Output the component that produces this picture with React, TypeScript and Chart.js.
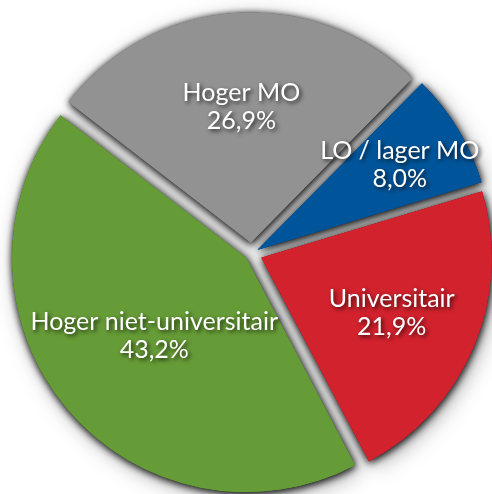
import React, { useEffect, useRef } from "react";
import { Chart, registerables } from "chart.js";

Chart.register(...registerables);

// ---- data ----
const categories = ["LO / lager MO", "Universitair", "Hoger niet-universitair", "Hoger MO"];
const shares = [8.0, 21.9, 43.2, 26.9];
const valueLabels = ["8,0%", "21,9%", "43,2%", "26,9%"];
const colors = ["#00559a", "#d2222d", "#669c37", "#929292"];

// ---- styling ----
const EXPLODE = 11; // px each slice is pulled out
const LABEL_FRACTIONS = [0.705, 0.613, 0.505, 0.596];
const total = shares.reduce((a, b) => a + b, 0);
// Chart.js translates arcs by offset/4*(1+fix); compensate for an even explode
const offsets = shares.map((v) => {
  const circ = (v / total) * 2 * Math.PI;
  const fix = 1 - Math.sin(Math.min(Math.PI, circ));
  return (4 * EXPLODE) / (1 + fix);
});

const shadowPasses = [
  { color: "rgba(0,0,0,0.35)", blur: 22, dx: 4, dy: 5 },
  { color: "rgba(0,0,0,0.8)", blur: 8, dx: 1, dy: 2 },
  { color: "rgba(0,0,0,0.5)", blur: 6, dx: 0, dy: 1 },
];

const shadowPlugin = {
  id: "sliceShadow",
  beforeDatasetsDraw(chart: any) {
    const ctx = chart.ctx;
    const meta = chart.getDatasetMeta(0);
    shadowPasses.forEach((p) => {
      ctx.save();
      ctx.shadowColor = p.color;
      ctx.shadowBlur = p.blur;
      ctx.shadowOffsetX = p.dx;
      ctx.shadowOffsetY = p.dy;
      meta.data.forEach((a: any) => a.draw(ctx));
      ctx.restore();
    });
  },
};

const labelPlugin = {
  id: "sliceLabels",
  afterDatasetsDraw(chart: any) {
    const ctx = chart.ctx;
    const meta = chart.getDatasetMeta(0);
    meta.data.forEach((arc: any, i: number) => {
      const { x, y, startAngle, endAngle, outerRadius } = arc.getProps(
        ["x", "y", "startAngle", "endAngle", "outerRadius"],
        true
      );
      const mid = (startAngle + endAngle) / 2;
      const r = EXPLODE + LABEL_FRACTIONS[i] * outerRadius;
      const cx = x + Math.cos(mid) * r;
      const cy = y + Math.sin(mid) * r;
      ctx.save();
      ctx.font = "25px Lato";
      ctx.fillStyle = "#ffffff";
      ctx.textAlign = "center";
      ctx.textBaseline = "alphabetic";
      ctx.shadowColor = "rgba(0,0,0,0.75)";
      ctx.shadowBlur = 4;
      ctx.shadowOffsetX = 2;
      ctx.shadowOffsetY = 2;
      ctx.fillText(categories[i], cx, cy - 5);
      ctx.fillText(valueLabels[i], cx, cy + 23);
      ctx.restore();
    });
  },
};

export default function App() {
  const ref = useRef<HTMLCanvasElement | null>(null);

  useEffect(() => {
    if (!ref.current) return;
    const chart = new Chart(ref.current, {
      type: "pie",
      data: {
        labels: categories,
        datasets: [
          {
            data: shares,
            backgroundColor: colors,
            hoverBackgroundColor: colors,
            borderWidth: 0,
            offset: offsets,
            hoverOffset: 0,
            clip: false,
          } as any,
        ],
      },
      options: {
        animation: false,
        responsive: false,
        devicePixelRatio: 1,
        rotation: 44.5,
        radius: 230,
        layout: { padding: { left: 11, top: 13, right: 0, bottom: 0 } },
        plugins: {
          legend: { display: false },
          tooltip: { enabled: false },
        },
        events: [],
      } as any,
      plugins: [shadowPlugin, labelPlugin],
    });
    return () => chart.destroy();
  }, []);

  return (
    <div
      style={{
        position: "fixed",
        left: 0,
        top: 0,
        width: 492,
        height: 494,
        background: "#ffffff",
        overflow: "hidden",
      }}
    >
      <canvas ref={ref} width={492} height={494} style={{ display: "block", width: 492, height: 494 }} />
    </div>
  );
}
